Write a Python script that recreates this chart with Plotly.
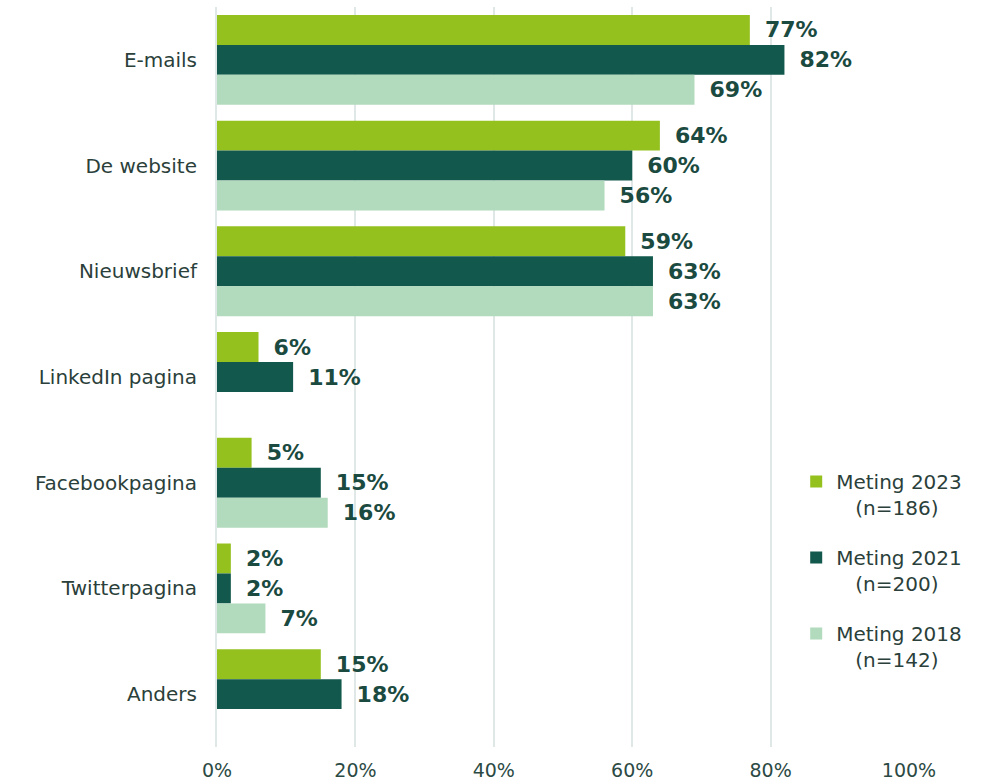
import plotly.graph_objects as go

categories = ["E-mails", "De website", "Nieuwsbrief", "LinkedIn pagina", "Facebookpagina", "Twitterpagina", "Anders"]
series_names = ["Meting 2023<br>\u00a0\u00a0\u00a0(n=186)", "Meting 2021<br>\u00a0\u00a0\u00a0(n=200)", "Meting 2018<br>\u00a0\u00a0\u00a0(n=142)"]
values_2023 = [77, 64, 59, 6, 5, 2, 15]
values_2021 = [82, 60, 63, 11, 15, 2, 18]
values_2018 = [69, 56, 63, None, 16, 7, None]
colors = ["#95c11f", "#12584c", "#b2dabd"]
tick_vals = [0, 20, 40, 60, 80, 100]
tick_text = ["0%", "20%", "40%", "60%", "80%", "100%"]

FONT = "DejaVu Sans"

fig = go.Figure()
for i, (name, vals, col) in enumerate(zip(series_names, [values_2023, values_2021, values_2018], colors)):
    fig.add_trace(go.Bar(
        y=categories, x=vals, orientation="h", name=name, marker=dict(color=col, line=dict(width=0)),
        text=[("\u00a0\u2009" + f"{v}%") if v is not None else "" for v in vals],
        textposition="outside", cliponaxis=False,
        textfont=dict(family=FONT, size=22, color="#1b4a40", weight="bold"),
        legendgroup=f"g{i}",
    ))

fig.update_layout(
    width=987, height=783,
    margin=dict(l=217, r=78, t=7, b=36),
    barmode="group", bargap=0.15, bargroupgap=0,
    plot_bgcolor="white", paper_bgcolor="white",
    font=dict(family=FONT, size=20, color="#2b3f3b"),
    legend=dict(x=0.837, y=0.385, xanchor="left", yanchor="top", bgcolor="rgba(0,0,0,0)",
                traceorder="grouped", tracegroupgap=21, valign="top",
                font=dict(family=FONT, size=20, color="#2b3f3b"),
                itemwidth=30),
    xaxis=dict(range=[0, 100], tickvals=tick_vals, ticktext=tick_text, showgrid=True,
               gridcolor="#dfe8e6", gridwidth=2, zeroline=False, ticklabelstandoff=10,
               automargin=False, tickfont=dict(family=FONT, size=19, color="#2b4a44")),
    yaxis=dict(autorange="reversed", showgrid=False, zeroline=False, showline=True,
               linecolor="#dfe8e6", linewidth=2, ticklabelstandoff=14, automargin=False,
               tickfont=dict(family=FONT, size=20, color="#2b3f3b")),
)
fig.write_html("out.html", config={"displayModeBar": False},
               post_script="document.body.style.margin='0';")
